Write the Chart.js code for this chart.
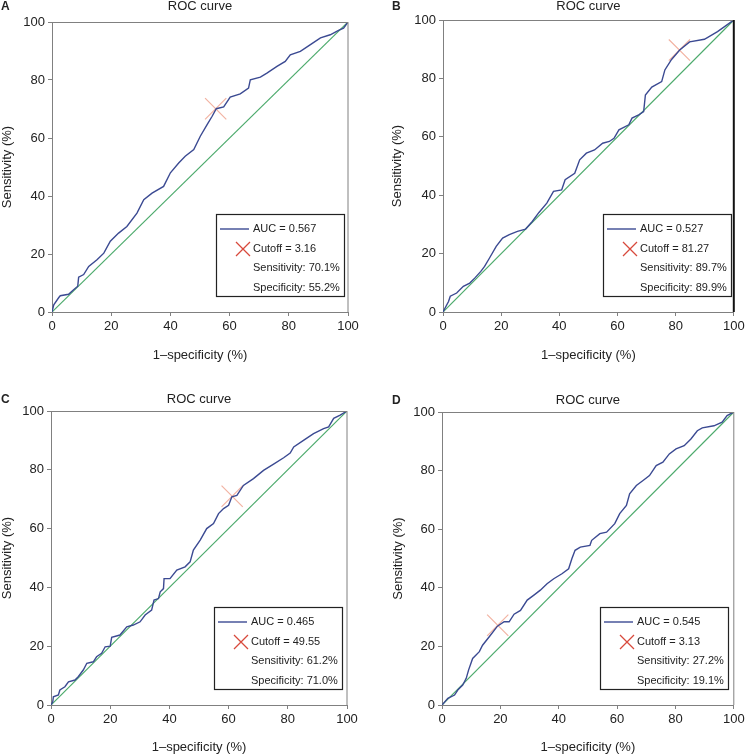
<!DOCTYPE html>
<html>
<head>
<meta charset="utf-8">
<script src="https://cdn.jsdelivr.net/npm/chart.js@4.4.0/dist/chart.umd.min.js"></script>
<style>
body { margin: 0; background: #fff; width: 750px; height: 755px; position: relative; overflow: hidden; }
canvas { position: absolute; }
</style>
</head>
<body>
<canvas id="cA" width="375" height="377" style="left:0;top:0"></canvas>
<canvas id="cB" width="375" height="377" style="left:375px;top:0"></canvas>
<canvas id="cC" width="375" height="378" style="left:0;top:377px"></canvas>
<canvas id="cD" width="375" height="378" style="left:375px;top:377px"></canvas>
<script>
const tickVals = [0, 20, 40, 60, 80, 100];
const diagX = [0, 100];
const diagY = [0, 100];

// panel A
const fprA = [0, 0.6, 2.3, 2.8, 5.6, 7.3, 8.7, 9, 10.7, 12.4, 15.2, 17.5, 19.7, 22.5, 25.3, 28.7, 31, 33.8, 37.7, 40, 42.8, 45, 47.9, 50.1, 52.4, 54.1, 55.5, 58, 60.2, 63.6, 66.4, 67, 70.4, 72.6, 76, 78.8, 80.5, 83.9, 87.3, 90.7, 94, 96.8, 98.5, 100];
const tprA = [0, 2.5, 5, 5.6, 6.1, 7.7, 8.9, 12, 12.9, 15.7, 18, 20.3, 24.4, 27.2, 29.5, 34.1, 38.7, 41, 43.3, 48, 51.4, 53.7, 56, 60.6, 64.6, 67.5, 70.1, 70.7, 74.1, 75.2, 77.2, 80.1, 81, 82.4, 84.7, 86.4, 88.7, 89.9, 92.2, 94.5, 95.6, 97.1, 97.9, 100];
const cutA = [55.3, 70.1];
const legA = ['AUC = 0.567', 'Cutoff = 3.16', 'Sensitivity: 70.1%', 'Specificity: 55.2%'];

// panel B
const fprB = [0, 1.9, 2.5, 4.7, 7, 9.2, 10.9, 13, 14.3, 16, 18.3, 20.5, 22.8, 25.6, 28.4, 30.7, 33, 35.7, 38, 40.8, 42, 45.3, 47, 49.3, 52.1, 54.9, 57.2, 58.8, 60.5, 63.9, 65, 67.3, 69, 69.6, 71.8, 75.2, 76.3, 78.6, 81.4, 84.8, 89.9, 94.4, 100];
const tprB = [0, 3.6, 5.4, 6.5, 8.8, 9.9, 11.6, 13.9, 15.6, 18.5, 22.5, 25.3, 26.5, 27.6, 28.4, 31, 34.1, 37.3, 41.3, 41.8, 45.3, 47.5, 52.1, 54.4, 55.5, 57.8, 58.4, 59.5, 62.4, 64.1, 66.4, 67.5, 68.6, 74.3, 77, 78.9, 82.9, 86.5, 89.7, 92.5, 93.4, 96, 100];
const cutB = [81.3, 89.7];
const legB = ['AUC = 0.527', 'Cutoff = 81.27', 'Sensitivity: 89.7%', 'Specificity: 89.9%'];

// panel C
const fprC = [0, 0.6, 0.8, 2.5, 3, 4.7, 5.9, 8.1, 9.2, 10.9, 12.1, 14.3, 15.4, 17.1, 18.3, 20, 20.5, 23.3, 25.6, 27.8, 30.1, 31.8, 34, 34.8, 36.3, 36.9, 38, 38.2, 40.2, 42.5, 45.3, 47, 48.1, 50.4, 52.6, 54.9, 56.6, 58.3, 60, 61.1, 62.8, 65, 68.4, 71.8, 75.2, 78.6, 80.8, 82, 85.3, 88.7, 92.1, 93.8, 95.5, 97.7, 100];
const tprC = [0, 1.1, 2.8, 3.4, 5.1, 6.2, 7.9, 8.5, 9.6, 11.9, 14.2, 14.7, 16.4, 17.6, 19.8, 20, 23, 23.8, 26.6, 27.2, 28.3, 30.6, 32.3, 35.7, 36.2, 38.5, 39.6, 43, 43, 45.9, 47, 48.7, 52.7, 56.1, 60, 61.7, 65.1, 66.8, 67.9, 70.8, 71.3, 74.7, 77, 79.8, 81.9, 84.1, 85.7, 87.8, 90, 92.3, 94, 94.6, 97.5, 98.6, 100];
const cutC = [61.2, 71.0];
const legC = ['AUC = 0.465', 'Cutoff = 49.55', 'Sensitivity: 61.2%', 'Specificity: 71.0%'];

// panel D
const fprD = [0, 2, 4.3, 5.4, 7.1, 8.3, 9.1, 10.5, 12.8, 13.9, 16.2, 19, 21.3, 23, 24.7, 26.9, 29.2, 31.5, 33.7, 36, 38.3, 41.1, 43.4, 44.5, 45.6, 47.4, 50.7, 51.3, 54.1, 56.4, 59.2, 60.9, 63.2, 64.3, 66.6, 68.9, 71.1, 73.4, 75.7, 77.9, 80.2, 83, 85.3, 87.5, 89.2, 93.2, 96, 97.7, 100];
const tprD = [0, 2.3, 3.4, 5.1, 6.8, 9.1, 11.9, 15.9, 18.2, 20.4, 23.3, 26.9, 28.4, 28.4, 31, 32.3, 35.8, 37.5, 39.2, 41.4, 43.1, 44.8, 46.5, 49.9, 52.8, 53.9, 54.5, 56.2, 58.5, 59, 61.9, 65.3, 68.1, 72.1, 74.9, 76.6, 78.3, 81.7, 82.9, 85.7, 87.4, 88.5, 90.8, 93.6, 94.6, 95.3, 96.5, 98.8, 100];
const cutD = [19.1, 27.2];
const legD = ['AUC = 0.545', 'Cutoff = 3.13', 'Sensitivity: 27.2%', 'Specificity: 19.1%'];

const FONT = '"Liberation Sans", Arial, sans-serif';
const BLUE = '#3b4a92';
const GREEN = '#4caa6c';

const pts = (xs, ys) => xs.map((x, i) => ({ x: x, y: ys[i] }));

// frame, title, panel letter and the boxed legend
const decor = {
    id: 'decor',
    afterDraw(chart, args, o) {
        const { ctx, chartArea: a } = chart;
        ctx.save();
        ctx.strokeStyle = '#808080';
        ctx.lineWidth = 1;
        ctx.beginPath();
        ctx.moveTo(a.left, a.top + 0.5);
        ctx.lineTo(a.right, a.top + 0.5);
        ctx.stroke();
        ctx.strokeStyle = o.rightColor;
        ctx.lineWidth = o.rightWidth;
        ctx.beginPath();
        ctx.moveTo(a.right, a.top);
        ctx.lineTo(a.right, a.bottom);
        ctx.stroke();

        ctx.fillStyle = '#222';
        ctx.textBaseline = 'alphabetic';
        ctx.textAlign = 'center';
        ctx.font = '13px ' + FONT;
        ctx.fillText('ROC curve', (a.left + a.right) / 2, o.titleY);
        ctx.textAlign = 'left';
        ctx.font = 'bold 12px ' + FONT;
        ctx.fillText(o.letter, o.letterX, o.titleY);

        const w = 128, h = 82;
        const bx = Math.round(a.right - o.boxRight - w), by = Math.round(a.bottom - 16 - h);
        ctx.fillStyle = '#fff';
        ctx.fillRect(bx, by, w, h);
        ctx.strokeStyle = '#222';
        ctx.lineWidth = 1.2;
        ctx.strokeRect(bx + 0.5, by + 0.5, w, h);

        ctx.strokeStyle = BLUE;
        ctx.lineWidth = 1.4;
        ctx.beginPath();
        ctx.moveTo(bx + 4, by + 15);
        ctx.lineTo(bx + 33, by + 15);
        ctx.stroke();

        const cx = bx + 27, cy = by + 35;
        ctx.strokeStyle = '#d8493c';
        ctx.lineWidth = 1.3;
        ctx.beginPath();
        ctx.moveTo(cx - 7, cy - 7); ctx.lineTo(cx + 7, cy + 7);
        ctx.moveTo(cx + 7, cy - 7); ctx.lineTo(cx - 7, cy + 7);
        ctx.stroke();

        ctx.fillStyle = '#222';
        ctx.font = '11px ' + FONT;
        ctx.textBaseline = 'middle';
        const rows = [15, 35, 54, 74];
        o.lines.forEach((t, i) => ctx.fillText(t, bx + 37, by + rows[i]));
        ctx.restore();
    }
};

function axis(title, size, titlePad, horizontal) {
    return {
        type: 'linear',
        min: 0,
        max: 100,
        afterBuildTicks: s => { s.ticks = tickVals.map(v => ({ value: v })); },
        afterFit: s => { if (horizontal) s.height = size; else s.width = size; },
        ticks: { color: '#222', font: { family: FONT, size: 13 }, padding: 3, maxRotation: 0 },
        grid: { display: true, drawOnChartArea: false, drawTicks: true, tickLength: 4, color: '#808080' },
        border: { display: true, color: '#808080', width: 1 },
        title: {
            display: true, text: title, color: '#222',
            font: { family: FONT, size: 13 },
            padding: horizontal ? { top: 0, bottom: titlePad } : { top: titlePad, bottom: 0 }
        }
    };
}

function makePanel(id, p) {
    const cv = document.getElementById(id);
    new Chart(cv.getContext('2d'), {
        type: 'line',
        data: {
            datasets: [
                { data: pts(p.fx, p.fy), borderColor: BLUE, borderWidth: 1.4, pointRadius: 0, fill: false, tension: 0 },
                { data: [{ x: p.cut[0], y: p.cut[1] }], showLine: false, pointStyle: 'crossRot', pointRadius: 15,
                  borderColor: 'rgba(234,128,100,0.6)', borderWidth: 1.2, backgroundColor: 'transparent' },
                { data: pts(diagX, diagY), borderColor: GREEN, borderWidth: 1.2, pointRadius: 0, fill: false }
            ]
        },
        options: {
            responsive: false,
            animation: false,
            layout: { padding: { left: 0, top: p.top, right: cv.width - p.right, bottom: cv.height - p.bottom - p.xh } },
            scales: {
                x: axis('1\u2013specificity (%)', p.xh, p.xPad, true),
                y: axis('Sensitivity (%)', p.left, p.yPad, false)
            },
            plugins: {
                legend: { display: false },
                tooltip: { enabled: false },
                decor: {
                    letter: p.letter, letterX: p.letterX, titleY: p.titleY, boxRight: p.boxRight,
                    rightColor: p.rightColor, rightWidth: p.rightWidth, lines: p.leg
                }
            }
        },
        plugins: [decor]
    });
}

makePanel('cA', { fx: fprA, fy: tprA, cut: cutA, leg: legA, letter: 'A', letterX: 1, titleY: 9.5,
    left: 52, right: 348, top: 22, bottom: 312, xh: 51, xPad: 0, yPad: 0, boxRight: 4, rightColor: '#808080', rightWidth: 1 });
makePanel('cB', { fx: fprB, fy: tprB, cut: cutB, leg: legB, letter: 'B', letterX: 17, titleY: 9.5,
    left: 68, right: 363, top: 20, bottom: 312, xh: 51, xPad: 0, yPad: 15, boxRight: 3, rightColor: '#111', rightWidth: 2 });
makePanel('cC', { fx: fprC, fy: tprC, cut: cutC, leg: legC, letter: 'C', letterX: 1, titleY: 26,
    left: 51, right: 347, top: 34, bottom: 328, xh: 50, xPad: 0, yPad: 0, boxRight: 5, rightColor: '#808080', rightWidth: 1 });
makePanel('cD', { fx: fprD, fy: tprD, cut: cutD, leg: legD, letter: 'D', letterX: 17, titleY: 26.5,
    left: 67, right: 362, top: 35, bottom: 328, xh: 50, xPad: 0, yPad: 16, boxRight: 6, rightColor: '#808080', rightWidth: 1 });
</script>
</body>
</html>
